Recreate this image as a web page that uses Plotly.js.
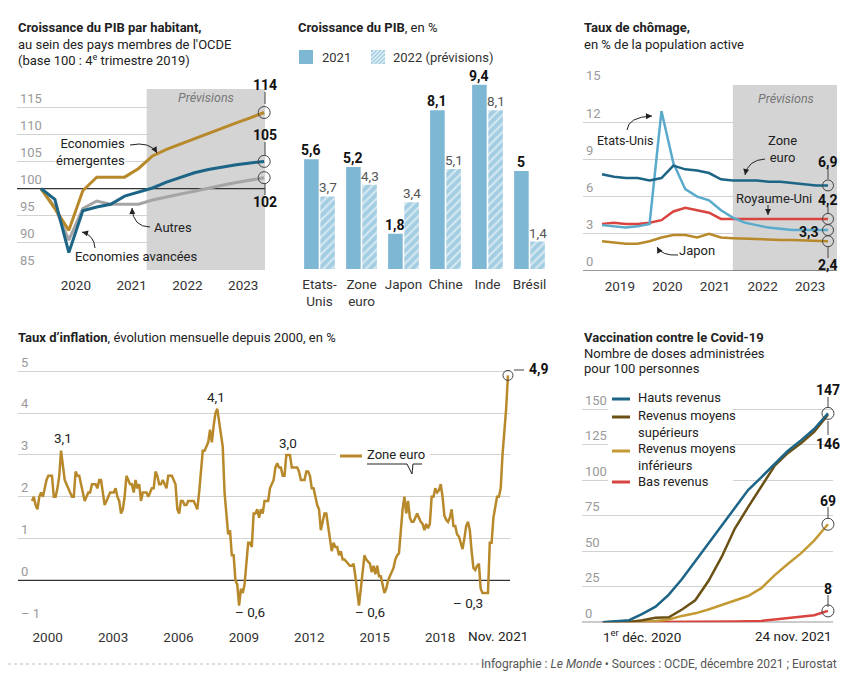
<!DOCTYPE html>
<html><head><meta charset="utf-8">
<script src="https://cdn.plot.ly/plotly-3.0.1.min.js"></script>
<style>html,body{margin:0;padding:0;background:#fff}#chart{width:850px;height:688px}</style>
</head><body><div id="chart"></div>
<script>
// ================= DATA =================
// Panel 1 : PIB par habitant (base 100 : T4 2019)
const gdpQuarters = ['2019-T4','2020-T1','2020-T2','2020-T3','2020-T4','2021-T1','2021-T2','2021-T3','2021-T4',
  '2022-T1','2022-T2','2022-T3','2022-T4','2023-T1','2023-T2','2023-T3','2023-T4'];
const gdpEmerging = [100, 96.3, 92.3, 99.6, 102.1, 102.1, 102.1, 103.7, 106.0, 107.2, 108.2, 109.1, 110.1, 111.1, 112.1, 113.0, 114];
const gdpAdvanced = [100, 98.0, 88.2, 95.9, 96.6, 97.1, 98.6, 99.4, 100.1, 101.2, 102.1, 102.9, 103.5, 104.0, 104.4, 104.7, 105];
const gdpOthers   = [100, 96.6, 90.5, 96.3, 97.7, 97.1, 97.1, 97.1, 97.9, 98.5, 99.0, 99.5, 100.1, 100.6, 101.1, 101.5, 102];

// Panel 2 : croissance du PIB, en %
const growthCountries = ['Etats-<br>Unis', 'Zone<br>euro', 'Japon', 'Chine', 'Inde', 'Brésil'];
const growth2021 = [5.6, 5.2, 1.8, 8.1, 9.4, 5];
const growth2022 = [3.7, 4.3, 3.4, 5.1, 8.1, 1.4];
const growthSeriesNames = ['2021', '2022 (prévisions)'];

// Panel 3 : taux de chômage
const unempQuarters = ['2019-T1','2019-T2','2019-T3','2019-T4','2020-T1','2020-T2','2020-T3','2020-T4',
  '2021-T1','2021-T2','2021-T3','2021-T4','2022-T1','2022-T2','2022-T3','2022-T4','2023-T1','2023-T2','2023-T3','2023-T4'];
const unempEuro  = [7.8, 7.6, 7.5, 7.5, 7.3, 7.5, 8.5, 8.2, 8.1, 7.9, 7.4, 7.3, 7.3, 7.3, 7.2, 7.2, 7.1, 7.0, 6.9, 6.9];
const unempUS    = [3.7, 3.6, 3.5, 3.6, 3.8, 12.9, 8.7, 6.6, 6.0, 5.7, 4.9, 4.3, 3.9, 3.7, 3.5, 3.4, 3.3, 3.3, 3.3, 3.3];
const unempUK    = [3.8, 3.9, 3.8, 3.8, 3.9, 4.1, 4.8, 5.1, 4.9, 4.7, 4.2, 4.2, 4.2, 4.2, 4.2, 4.2, 4.2, 4.2, 4.2, 4.2];
const unempJapan = [2.4, 2.3, 2.2, 2.2, 2.4, 2.7, 2.9, 2.9, 2.7, 3.0, 2.7, 2.65, 2.6, 2.6, 2.55, 2.5, 2.5, 2.45, 2.4, 2.4];

// Panel 4 : inflation zone euro, mensuelle, janv. 2000 -> nov. 2021
const inflationStartYear = 2000;
const inflationRate = [
  1.9, 2.0, 1.8, 1.7, 2.0, 2.1, 2.0, 2.2, 2.4, 2.5, 2.5, 2.5,   // 2000
  2.0, 2.0, 2.2, 2.5, 3.1, 2.7, 2.4, 2.3, 2.2, 2.1, 2.0, 2.0,   // 2001
  2.6, 2.5, 2.5, 2.3, 2.1, 1.9, 2.0, 2.1, 2.1, 2.3, 2.3, 2.3,   // 2002
  2.2, 2.4, 2.4, 2.1, 1.8, 1.9, 2.0, 2.1, 2.1, 2.1, 2.2, 2.0,   // 2003
  1.9, 1.6, 1.7, 2.0, 2.5, 2.4, 2.3, 2.3, 2.1, 2.4, 2.2, 2.3,   // 2004
  1.9, 2.1, 2.1, 2.1, 2.0, 2.1, 2.2, 2.2, 2.6, 2.5, 2.3, 2.3,   // 2005
  2.4, 2.3, 2.2, 2.5, 2.5, 2.5, 2.4, 2.3, 1.7, 1.6, 1.9, 1.9,   // 2006
  1.8, 1.8, 1.9, 1.9, 1.9, 1.9, 1.8, 1.7, 2.1, 2.6, 3.1, 3.1,   // 2007
  3.2, 3.3, 3.6, 3.3, 3.7, 4.0, 4.1, 3.8, 3.6, 3.2, 2.1, 1.6,   // 2008
  1.1, 1.2, 0.6, 0.6, 0.0, -0.1, -0.6, -0.2, -0.3, -0.1, 0.5, 0.9, // 2009
  0.9, 0.8, 1.6, 1.6, 1.7, 1.5, 1.7, 1.6, 1.9, 1.9, 1.9, 2.2,   // 2010
  2.3, 2.4, 2.7, 2.8, 2.7, 2.7, 2.5, 2.5, 3.0, 3.0, 3.0, 2.7,   // 2011
  2.7, 2.7, 2.7, 2.6, 2.4, 2.4, 2.4, 2.6, 2.6, 2.5, 2.2, 2.2,   // 2012
  2.0, 1.8, 1.7, 1.2, 1.4, 1.6, 1.6, 1.3, 1.1, 0.7, 0.9, 0.8,   // 2013
  0.8, 0.6, 0.7, 0.5, 0.5, 0.45, 0.4, 0.35, 0.35, 0.4, 0.1, -0.2, // 2014
  -0.6, -0.2, 0.3, 0.6, 0.5, 0.45, 0.4, 0.2, 0.35, 0.15, 0.35, 0.1, // 2015
  0.1, -0.1, -0.3, -0.2, 0.0, 0.1, 0.2, 0.3, 0.5, 0.6, 0.65, 1.2, // 2016
  1.7, 2.0, 1.6, 1.9, 1.5, 1.4, 1.4, 1.5, 1.6, 1.5, 1.4, 1.35, // 2017
  1.2, 1.35, 1.25, 1.35, 2.0, 2.0, 2.2, 2.1, 2.15, 2.3, 2.0, 1.55, // 2018
  1.45, 1.4, 1.5, 1.7, 1.3, 1.3, 1.1, 1.05, 0.9, 0.75, 1.0, 1.3, // 2019
  1.4, 1.2, 0.7, 0.3, 0.25, 0.35, 0.4, -0.2, -0.3, -0.3, -0.3, -0.3, // 2020
  0.9, 0.9, 1.5, 1.8, 2.0, 2.0, 2.2, 3.0, 3.5, 4.1, 4.9           // 2021 (jusqu'à nov.)
];
const inflationTickYears = [2000, 2003, 2006, 2009, 2012, 2015, 2018];

// Panel 5 : vaccination, doses pour 100 personnes
const vaccDates = ['2020-12-01','2020-12-22','2021-01-12','2021-02-02','2021-02-23','2021-03-16','2021-04-06','2021-04-27',
  '2021-05-18','2021-06-08','2021-06-29','2021-07-20','2021-08-10','2021-08-31','2021-09-21','2021-10-12','2021-11-02','2021-11-24'];
const vaccHigh     = [0, 0.5, 1.5, 6, 11, 19.5, 30.5, 43, 55.5, 68, 81, 93, 102, 111.5, 120.5, 128, 136, 147];
const vaccUpperMid = [0, 0, 0.3, 1.5, 3.2, 3.5, 9, 15.5, 29, 46, 66, 81, 96, 110, 119, 126, 134, 146];
const vaccLowerMid = [0, 0, 0, 0.3, 1, 2, 4.5, 6.3, 9, 12, 15, 18.5, 24, 33, 41, 48.5, 57.5, 69];
const vaccLow      = [0, 0, 0, 0, 0, 0, 0, 0, 0.2, 0.3, 0.5, 0.7, 1, 2, 3, 3.5, 5, 8];

// ================= HELPERS =================
const W = 850, H = 688;
const X = x => x / W;
const Y = y => 1 - y / H;
const FONT = 'Roboto, "Open Sans", Arial, sans-serif';
const fmt = v => String(v).replace('.', ',');
const qpos = q => { const [y, t] = q.split('-T'); return +y + (+t - 0.5) / 4; };
const last = a => a[a.length - 1];

const C = {
  gold: '#b8892a', blue: '#1c6586', gray: '#a5a5a5', lightblue: '#5aaacb', red: '#d9443f',
  brown: '#6b5116', gold2: '#c49a34', bar: '#7db7d3', bar2: '#a3cde2', shade: '#d4d4d4', grid: '#d2d2d2'
};

const annotations = [];
const shapes = [];
function T(x, y, text, o = {}) {
  const a = {xref: 'paper', yref: 'paper', x: X(x), y: Y(y), text, showarrow: false,
    xanchor: o.xa || 'left', yanchor: o.ya || 'middle', align: o.align || 'left',
    font: {family: FONT, size: o.size || 13, color: o.color || '#222'}, borderpad: o.pad || 0};
  if (o.bg) a.bgcolor = o.bg;
  annotations.push(a);
}
function L(x0, y0, x1, y1, color = '#333', width = 1, dash = 'solid') {
  shapes.push({type: 'line', xref: 'paper', yref: 'paper', x0: X(x0), y0: Y(y0), x1: X(x1), y1: Y(y1),
    line: {color, width, dash}, layer: 'above'});
}
function R(x0, y0, x1, y1, fill) {
  shapes.push({type: 'rect', xref: 'paper', yref: 'paper', x0: X(x0), y0: Y(y0), x1: X(x1), y1: Y(y1),
    fillcolor: fill, line: {width: 0}, layer: 'above'});
}
function A(x0, y0, cx, cy, x1, y1) {
  shapes.push({type: 'path', xref: 'paper', yref: 'paper',
    path: `M${X(x0)},${Y(y0)} Q${X(cx)},${Y(cy)} ${X(x1)},${Y(y1)}`, line: {color: '#222', width: 1}, layer: 'above'});
  let dx = x1 - cx, dy = y1 - cy; const n = Math.hypot(dx, dy) || 1; dx /= n; dy /= n;
  const bx = x1 - dx * 6, by = y1 - dy * 6, nx = -dy, ny = dx;
  shapes.push({type: 'path', xref: 'paper', yref: 'paper',
    path: `M${X(x1)},${Y(y1)} L${X(bx + nx * 3)},${Y(by + ny * 3)} L${X(bx - nx * 3)},${Y(by - ny * 3)} Z`,
    fillcolor: '#222', line: {width: 0}, layer: 'above'});
}

// ================= AXIS RANGES =================
const r1x = [2019.446, 2023.89], r1y = [85, 118.33];
const r3x = [2018.726, 2024.064], r3y = [0, 15];
const r4x = [1999.358, 2021.927], r4y = [-1, 5.2];
const r5x = ['2020-10-29', '2021-12-02'], r5y = [0, 155];

// ================= TRACES =================
const traces = [];
const line = (x, y, color, width, ax, ay) => ({type: 'scatter', mode: 'lines', x, y, xaxis: ax, yaxis: ay,
  line: {color, width, shape: 'linear'}, showlegend: false, hoverinfo: 'skip', cliponaxis: false});
const ends = (x, ys, ax, ay, size = 12) => ({type: 'scatter', mode: 'markers', x: ys.map(() => x), y: ys, xaxis: ax, yaxis: ay,
  marker: {symbol: 'circle-open', size, color: '#444', line: {width: 1, color: '#444'}}, cliponaxis: false, showlegend: false, hoverinfo: 'skip'});
const baseline = (rx, yv, ax, ay) => line(rx, [yv, yv], '#333', 1.2, ax, ay);

// Panel 1
const gx = gdpQuarters.map(qpos);
traces.push(baseline(r1x, 100, 'x', 'y'));
traces.push(line(gx, gdpOthers, C.gray, 3, 'x', 'y'));
traces.push(line(gx, gdpEmerging, C.gold, 3, 'x', 'y'));
traces.push(line(gx, gdpAdvanced, C.blue, 3, 'x', 'y'));
traces.push(ends(last(gx), [last(gdpEmerging), last(gdpAdvanced), last(gdpOthers)], 'x', 'y'));

// Panel 2
traces.push({type: 'bar', name: growthSeriesNames[0], x: growthCountries, y: growth2021, xaxis: 'x2', yaxis: 'y2',
  marker: {color: C.bar, line: {width: 0}}, showlegend: false, hoverinfo: 'skip'});
traces.push({type: 'bar', name: growthSeriesNames[1], x: growthCountries, y: growth2022, xaxis: 'x2', yaxis: 'y2',
  marker: {color: C.bar2, line: {width: 0}, pattern: {shape: '/', fgcolor: '#ffffff', fgopacity: 0.55, size: 6, solidity: 0.35, fillmode: 'overlay'}},
  showlegend: false, hoverinfo: 'skip'});
growthCountries.forEach((c, i) => {
  annotations.push({xref: 'x2', yref: 'y2', x: c, y: growth2021[i], xshift: -8.6, yshift: -1, yanchor: 'bottom', xanchor: 'center',
    showarrow: false, text: '<b>' + fmt(growth2021[i]) + '</b>', font: {family: FONT, size: 14, color: '#111'}});
  annotations.push({xref: 'x2', yref: 'y2', x: c, y: growth2022[i], xshift: 8.6, yshift: -1, yanchor: 'bottom', xanchor: 'center',
    showarrow: false, text: fmt(growth2022[i]), font: {family: FONT, size: 13.5, color: '#555'}});
});

// Panel 3
const ux = unempQuarters.map(qpos);
traces.push(baseline(r3x, 0, 'x3', 'y3'));
traces.push(line(ux, unempJapan, C.gold, 2.5, 'x3', 'y3'));
traces.push(line(ux, unempUK, C.red, 2.5, 'x3', 'y3'));
traces.push(line(ux, unempUS, C.lightblue, 2.5, 'x3', 'y3'));
traces.push(line(ux, unempEuro, C.blue, 2.5, 'x3', 'y3'));
traces.push(ends(last(ux), [last(unempEuro), last(unempUK), last(unempUS), last(unempJapan)], 'x3', 'y3', 11));

// Panel 4
const ix = inflationRate.map((v, i) => inflationStartYear + i / 12);
traces.push(baseline(r4x, 0, 'x4', 'y4'));
traces.push(line(ix, inflationRate, C.gold, 2.5, 'x4', 'y4'));
traces.push(ends(last(ix), [last(inflationRate)], 'x4', 'y4', 10));

// Panel 5
traces.push(baseline(r5x, 0, 'x5', 'y5'));
traces.push(line(vaccDates, vaccLow, C.red, 2.5, 'x5', 'y5'));
traces.push(line(vaccDates, vaccLowerMid, C.gold2, 2.5, 'x5', 'y5'));
traces.push(line(vaccDates, vaccUpperMid, C.brown, 2.5, 'x5', 'y5'));
traces.push(line(vaccDates, vaccHigh, C.blue, 2.5, 'x5', 'y5'));
traces.push(ends(last(vaccDates), [last(vaccHigh), last(vaccLowerMid), last(vaccLow)], 'x5', 'y5', 12));

// ================= AXES =================
const tickFontY = {family: FONT, size: 13, color: '#9a9a9a'};
const tickFontX = {family: FONT, size: 13.5, color: '#333'};
const yBase = {showgrid: true, gridcolor: C.grid, gridwidth: 1, zeroline: false, showline: false, ticks: '',
  ticklabelposition: 'inside top', ticklabeloverflow: 'allow', tickfont: tickFontY, fixedrange: true};
const xBase = {showgrid: false, zeroline: false, showline: false, ticks: '', tickfont: tickFontX, fixedrange: true, ticklabelstandoff: 5};

const layout = {
  width: W, height: H, margin: {l: 0, r: 0, t: 0, b: 0}, paper_bgcolor: '#fff', plot_bgcolor: 'rgba(0,0,0,0)',
  font: {family: FONT, color: '#222'}, separators: ', ', showlegend: false, barmode: 'group', bargap: 0.23, bargroupgap: 0.1,
  xaxis: Object.assign({}, xBase, {domain: [X(17), X(265)], range: r1x,
    tickvals: [2020.5, 2021.5, 2022.5, 2023.5], ticktext: ['2020', '2021', '2022', '2023']}),
  yaxis: Object.assign({}, yBase, {domain: [Y(270), Y(89)], range: r1y, tickvals: [85, 90, 95, 100, 105, 110, 115]}),
  xaxis2: Object.assign({}, xBase, {domain: [X(298.5), X(550.5)], type: 'category', anchor: 'y2', ticklabelstandoff: 5}),
  yaxis2: {domain: [Y(269), Y(73)], range: [0, 10], visible: false, anchor: 'x2', fixedrange: true},
  xaxis3: Object.assign({}, xBase, {domain: [X(583), X(837)], range: r3x, anchor: 'y3',
    tickvals: [2019.5, 2020.5, 2021.5, 2022.5, 2023.5], ticktext: ['2019', '2020', '2021', '2022', '2023']}),
  yaxis3: Object.assign({}, yBase, {domain: [Y(271), Y(85)], range: r3y, tickvals: [0, 3, 6, 9, 12, 15], anchor: 'x3'}),
  xaxis4: Object.assign({}, xBase, {domain: [X(18), X(510)], range: r4x, anchor: 'y4',
    tickvals: inflationTickYears.map(y => y + 0.72), ticktext: inflationTickYears.map(String)}),
  yaxis4: Object.assign({}, yBase, {domain: [Y(622.3), Y(362.8)], range: r4y, anchor: 'x4',
    tickvals: [-1, 0, 1, 2, 3, 4, 5], ticktext: ['– 1', '0', '1', '2', '3', '4', '5']}),
  xaxis5: Object.assign({}, xBase, {domain: [X(582), X(833)], type: 'date', range: r5x,
    showticklabels: false, anchor: 'y5'}),
  yaxis5: Object.assign({}, yBase, {domain: [Y(622.3), Y(402)], range: r5y, tickvals: [0, 25, 50, 75, 100, 125, 150], anchor: 'x5'}),
  annotations, shapes
};

// ================= DECORATIONS =================
// Panel 1
shapes.push({type: 'rect', xref: 'x', yref: 'y domain', x0: 2021.77, x1: r1x[1], y0: 0, y1: 1, fillcolor: C.shade, line: {width: 0}, layer: 'below'});
T(17, 28, '<b>Croissance du PIB par habitant,</b>');
T(17, 44, "au sein des pays membres de l'OCDE");
T(17, 60, '(base 100 : 4<sup>e</sup> trimestre 2019)');
T(206, 97, '<i>Prévisions</i>', {xa: 'center', color: '#777', size: 12.5});
T(126, 152, 'Economies<br>émergentes', {xa: 'right', align: 'right', bg: '#fff'});
A(130, 145, 150, 141, 157, 153);
T(153, 227, 'Autres');
A(150, 227, 133, 227, 132, 208);
T(136, 256, 'Economies avancées', {xa: 'center'});
A(95, 248, 94, 235, 82, 232);
T(265, 85, '<b>' + last(gdpEmerging) + '</b>', {xa: 'center', size: 14, color: '#111'});
T(265, 135, '<b>' + last(gdpAdvanced) + '</b>', {xa: 'center', size: 14, color: '#111'});
T(265, 202, '<b>' + last(gdpOthers) + '</b>', {xa: 'center', size: 14, color: '#111'});
L(265, 92, 265, 104, '#444'); L(265, 142, 265, 155, '#444'); L(265, 183, 265, 195, '#444');

// Panel 2
T(297, 28, '<b>Croissance du PIB</b>, en %');
// legend keys
R(299, 50, 313, 64, C.bar);
T(321, 57, growthSeriesNames[0], {size: 13, color: '#333'});
R(371, 50, 385, 64, C.bar2);
(function hatch(x0, y0, s, step) {
  for (let c = step; c < 2 * s; c += step) {
    let a, b;
    if (c <= s) { a = [x0, y0 + c]; b = [x0 + c, y0]; } else { a = [x0 + c - s, y0 + s]; b = [x0 + s, y0 + c - s]; }
    L(a[0], a[1], b[0], b[1], 'rgba(255,255,255,0.75)', 1.3);
  }
})(371, 50, 14, 4);
T(392, 57, growthSeriesNames[1], {size: 13, color: '#333'});

// Panel 3
shapes.push({type: 'rect', xref: 'x3', yref: 'y3', x0: 2021.875, x1: r3x[1], y0: 0, y1: 15, fillcolor: C.shade, line: {width: 0}, layer: 'below'});
T(583, 28, '<b>Taux de chômage,</b>');
T(583, 44, 'en % de la population active');
T(786, 98, '<i>Prévisions</i>', {xa: 'center', color: '#777', size: 12.5});
T(596, 140, 'Etats-Unis', {size: 12.5});
A(627, 130, 628, 117, 652, 116);
T(782, 149, 'Zone<br>euro', {xa: 'center', align: 'center'});
A(765, 159, 748, 160, 745, 175);
T(774, 199, 'Royaume-Uni', {xa: 'center'});
A(768, 205, 768, 209, 768, 215);
T(697, 250, 'Japon', {xa: 'center'});
A(678, 255, 662, 256, 657, 247);
T(828, 162, '<b>' + fmt(last(unempEuro)) + '</b>', {xa: 'center', size: 14, color: '#111'});
T(828, 200, '<b>' + fmt(last(unempUK)) + '</b>', {xa: 'center', size: 14, color: '#111'});
T(820, 232, '<b>' + fmt(last(unempUS)) + '</b>', {xa: 'right', size: 14, color: '#111'});
T(828, 265, '<b>' + fmt(last(unempJapan)) + '</b>', {xa: 'center', size: 14, color: '#111'});
L(828, 168, 828, 179, '#444'); L(828, 207, 828, 213, '#444'); L(828, 247, 828, 258, '#444');

// Panel 4
T(17, 337, "<b>Taux d’inflation</b>, évolution mensuelle depuis 2000, en %");
const yr = (y0, y1) => inflationRate.slice((y0 - inflationStartYear) * 12, (y1 - inflationStartYear + 1) * 12);
T(63, 438, fmt(Math.max(...yr(2001, 2001))), {xa: 'center', size: 13.5});
T(216, 397, fmt(Math.max(...yr(2008, 2008))), {xa: 'center', size: 13.5});
T(250, 612, '– ' + fmt(-Math.min(...yr(2009, 2009))), {xa: 'center', size: 13.5});
T(288, 443, fmt(Math.max(...yr(2011, 2011)).toFixed(1)), {xa: 'center', size: 13.5});
T(370, 612, '– ' + fmt(-Math.min(...yr(2015, 2015))), {xa: 'center', size: 13.5});
T(468, 603, '– ' + fmt(-Math.min(...yr(2020, 2020))), {xa: 'center', size: 13.5});
T(528, 369, '<b>' + fmt(last(inflationRate)) + '</b>', {size: 14, color: '#111'});
L(514, 370, 524, 370, '#444');
R(336, 448, 430, 462, '#fff');
L(340, 456, 362, 456, C.gold, 3);
T(366, 455, 'Zone euro');
shapes.push({type: 'path', xref: 'paper', yref: 'paper', line: {color: '#222', width: 1}, layer: 'above',
  path: `M${X(367)},${Y(464)} L${X(407)},${Y(464)} L${X(412)},${Y(474)} L${X(413)},${Y(464)} L${X(422)},${Y(464)}`});
T(498, 636, 'Nov. 2021', {xa: 'center', size: 13.5, color: '#222'});

// Panel 5
T(583, 337, '<b>Vaccination contre le Covid-19</b>');
T(583, 353, 'Nombre de doses administrées');
T(583, 369, 'pour 100 personnes');
R(608, 389, 733, 489, '#fff');
L(612, 399, 630, 399, C.blue, 3); T(637, 397, 'Hauts revenus');
L(612, 417, 630, 417, C.brown, 3); T(637, 424, 'Revenus moyens<br>supérieurs');
L(612, 451, 630, 451, C.gold2, 3); T(637, 457, 'Revenus moyens<br>inférieurs');
L(612, 482, 630, 482, C.red, 3); T(637, 481, 'Bas revenus');
T(828, 390, '<b>' + last(vaccHigh) + '</b>', {xa: 'center', size: 14, color: '#111'});
T(828, 444, '<b>' + last(vaccUpperMid) + '</b>', {xa: 'center', size: 14, color: '#111'});
T(828, 501, '<b>' + last(vaccLowerMid) + '</b>', {xa: 'center', size: 14, color: '#111'});
T(828, 589, '<b>' + last(vaccLow) + '</b>', {xa: 'center', size: 14, color: '#111'});
L(828, 397, 828, 407, '#444'); L(828, 421, 828, 435, '#444'); L(828, 507, 828, 519, '#444'); L(828, 595, 828, 607, '#444');
T(602, 636, '1<sup>er</sup> déc. 2020', {size: 13.5});
T(833, 636, '24 nov. 2021', {xa: 'right', size: 13.5});

// Footer
L(8, 664, 500, 664, '#bbb', 1, 'dot');
T(838, 664, 'Infographie : <i>Le Monde</i> • Sources : OCDE, décembre 2021 ; Eurostat', {xa: 'right', size: 12, color: '#555'});

Plotly.newPlot('chart', traces, layout, {staticPlot: true, displayModeBar: false});
</script>
</body></html>
